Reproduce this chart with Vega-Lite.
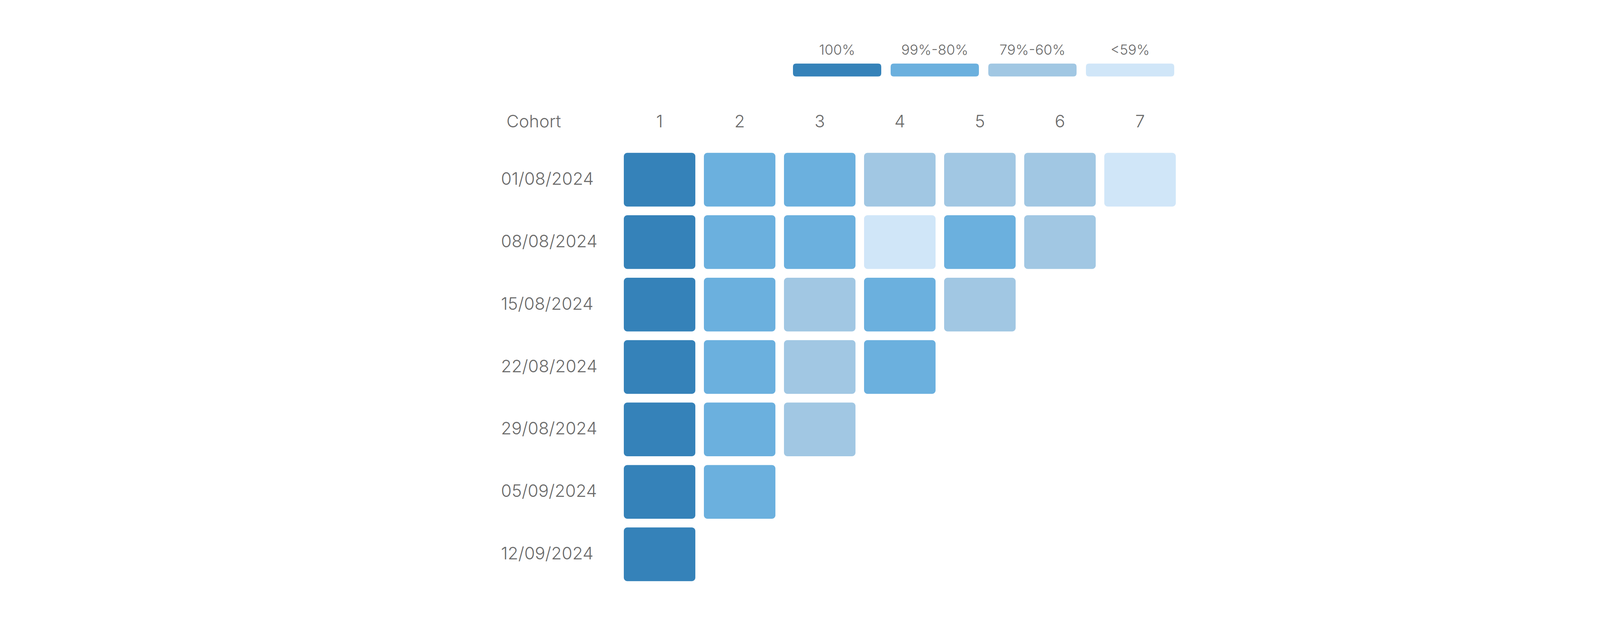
{
  "$schema": "https://vega.github.io/schema/vega-lite/v6.json",
  "autosize": {"type": "none"},
  "padding": {"left": 1586, "top": 380, "right": 1275, "bottom": 101},
  "width": 1435,
  "height": 1119,
  "background": "white",
  "config": {
    "view": {"stroke": null},
    "font": "Inter",
    "axis": {
      "labelFont": "Inter", "titleFont": "Inter",
      "labelColor": "#6b6b6b", "titleColor": "#6b6b6b", "labelFontWeight": 300
    }
  },
  "data": {
    "values": [
      {"cohort": "01/08/2024", "period": 1, "bucket": "100%"},
      {"cohort": "01/08/2024", "period": 2, "bucket": "99%-80%"},
      {"cohort": "01/08/2024", "period": 3, "bucket": "99%-80%"},
      {"cohort": "01/08/2024", "period": 4, "bucket": "79%-60%"},
      {"cohort": "01/08/2024", "period": 5, "bucket": "79%-60%"},
      {"cohort": "01/08/2024", "period": 6, "bucket": "79%-60%"},
      {"cohort": "01/08/2024", "period": 7, "bucket": "<59%"},
      {"cohort": "08/08/2024", "period": 1, "bucket": "100%"},
      {"cohort": "08/08/2024", "period": 2, "bucket": "99%-80%"},
      {"cohort": "08/08/2024", "period": 3, "bucket": "99%-80%"},
      {"cohort": "08/08/2024", "period": 4, "bucket": "<59%"},
      {"cohort": "08/08/2024", "period": 5, "bucket": "99%-80%"},
      {"cohort": "08/08/2024", "period": 6, "bucket": "79%-60%"},
      {"cohort": "15/08/2024", "period": 1, "bucket": "100%"},
      {"cohort": "15/08/2024", "period": 2, "bucket": "99%-80%"},
      {"cohort": "15/08/2024", "period": 3, "bucket": "79%-60%"},
      {"cohort": "15/08/2024", "period": 4, "bucket": "99%-80%"},
      {"cohort": "15/08/2024", "period": 5, "bucket": "79%-60%"},
      {"cohort": "22/08/2024", "period": 1, "bucket": "100%"},
      {"cohort": "22/08/2024", "period": 2, "bucket": "99%-80%"},
      {"cohort": "22/08/2024", "period": 3, "bucket": "79%-60%"},
      {"cohort": "22/08/2024", "period": 4, "bucket": "99%-80%"},
      {"cohort": "29/08/2024", "period": 1, "bucket": "100%"},
      {"cohort": "29/08/2024", "period": 2, "bucket": "99%-80%"},
      {"cohort": "29/08/2024", "period": 3, "bucket": "79%-60%"},
      {"cohort": "05/09/2024", "period": 1, "bucket": "100%"},
      {"cohort": "05/09/2024", "period": 2, "bucket": "99%-80%"},
      {"cohort": "12/09/2024", "period": 1, "bucket": "100%"}
    ]
  },
  "mark": {"type": "rect", "cornerRadius": 9},
  "encoding": {
    "x": {
      "field": "period", "type": "ordinal",
      "scale": {"domain": [1, 2, 3, 4, 5, 6, 7], "paddingInner": 0.107, "paddingOuter": 0.0535},
      "axis": {
        "orient": "top", "title": null, "domain": false, "ticks": false, "tickSize": 0,
        "labelAngle": 0, "labelFontSize": 44, "labelPadding": 68, "labelBaseline": "middle"
      }
    },
    "y": {
      "field": "cohort", "type": "ordinal",
      "scale": {
        "domain": ["01/08/2024", "08/08/2024", "15/08/2024", "22/08/2024", "29/08/2024", "05/09/2024", "12/09/2024"],
        "paddingInner": 0.14, "paddingOuter": 0.07
      },
      "axis": {
        "title": "Cohort", "titleAngle": 0, "titleAlign": "left", "titleBaseline": "middle",
        "titleX": -290, "titleY": -68, "titleFontSize": 44, "titleFontWeight": 300,
        "domain": false, "ticks": false, "tickSize": 0,
        "labelFontSize": 44, "labelAlign": "left", "labelBaseline": "middle", "labelPadding": 304, "labelLimit": 400
      }
    },
    "color": {
      "field": "bucket", "type": "nominal",
      "scale": {
        "domain": ["100%", "99%-80%", "79%-60%", "<59%"],
        "range": ["#3582b9", "#6bb0de", "#a1c7e3", "#d0e6f8"]
      },
      "legend": {
        "title": null, "orient": "none", "direction": "horizontal",
        "legendX": 444, "legendY": -364,
        "symbolType": "M -0.93 0.297 L 0.93 0.297 Q 1 0.297 1 0.367 L 1 0.519 Q 1 0.589 0.93 0.589 L -0.93 0.589 Q -1 0.589 -1 0.519 L -1 0.367 Q -1 0.297 -0.93 0.297 Z",
        "symbolSize": 51076, "symbolStrokeWidth": 0, "symbolOpacity": 1,
        "labelAlign": "center", "labelOffset": -113, "labelBaseline": "middle", "labelLimit": 400,
        "labelFontSize": 36, "labelFontWeight": 300, "labelColor": "#6b6b6b", "labelFont": "Inter",
        "columnPadding": 24
      }
    }
  }
}
